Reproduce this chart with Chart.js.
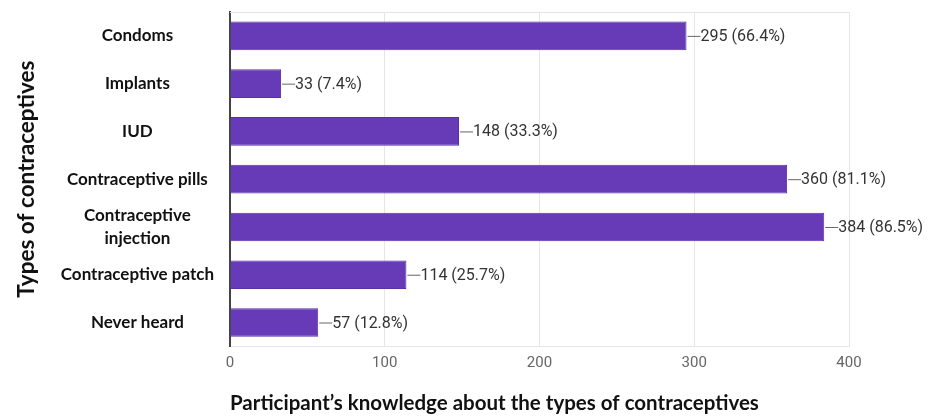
<!DOCTYPE html>
<html lang="en">
<head>
    <meta charset="UTF-8">
    <title>Types of contraceptives</title>
    <script src="https://cdn.jsdelivr.net/npm/chart.js"></script>
    <style>
        html, body { margin: 0; padding: 0; background: #fff; }
        #wrap { width: 932px; height: 417px; }
    </style>
</head>
<body>
<div id="wrap"><canvas id="chart"></canvas></div>

<script>
    // data
    const categories = ["Condoms", "Implants", "IUD", "Contraceptive pills", ["Contraceptive", "injection"], "Contraceptive patch", "Never heard"];
    const counts = [295, 33, 148, 360, 384, 114, 57];
    const percents = ["66.4%", "7.4%", "33.3%", "81.1%", "86.5%", "25.7%", "12.8%"];
    const xTicks = [0, 100, 200, 300, 400];

    // value labels with a short leader line after each bar
    const valueLabels = {
        id: "valueLabels",
        afterDatasetsDraw(chart) {
            const ctx = chart.ctx;
            const meta = chart.getDatasetMeta(0);
            ctx.save();
            ctx.font = "16px Roboto";
            ctx.textBaseline = "middle";
            meta.data.forEach((bar, i) => {
                const x = bar.x;
                const y = bar.y;
                ctx.strokeStyle = "#666";
                ctx.lineWidth = 1;
                ctx.beginPath();
                ctx.moveTo(x + 1, y + 0.5);
                ctx.lineTo(x + 14, y + 0.5);
                ctx.stroke();
                ctx.fillStyle = "#333";
                ctx.fillText(counts[i] + " (" + percents[i] + ")", x + 14, y + 1);
            });
            ctx.restore();
        }
    };

    // light top border of the plot area
    const plotFrame = {
        id: "plotFrame",
        beforeDatasetsDraw(chart) {
            const a = chart.chartArea;
            const ctx = chart.ctx;
            ctx.save();
            ctx.strokeStyle = "#e4e4e4";
            ctx.lineWidth = 1;
            ctx.beginPath();
            ctx.moveTo(a.left, a.top + 0.5);
            ctx.lineTo(a.right, a.top + 0.5);
            ctx.stroke();
            ctx.restore();
        }
    };

    new Chart(document.getElementById("chart"), {
        type: "bar",
        data: {
            labels: categories,
            datasets: [{
                data: counts,
                backgroundColor: "#673ab7",
                borderColor: "#5a2fa8",
                borderWidth: 1,
                categoryPercentage: 0.6,
                barPercentage: 1
            }]
        },
        options: {
            indexAxis: "y",
            responsive: true,
            maintainAspectRatio: false,
            animation: false,
            layout: { padding: { top: 12, right: 83, bottom: 0, left: 0 } },
            plugins: {
                legend: { display: false },
                tooltip: { enabled: false }
            },
            scales: {
                x: {
                    min: 0,
                    max: 400,
                    afterBuildTicks(scale) {
                        scale.ticks = xTicks.map(v => ({ value: v }));
                    },
                    grid: { color: "#e6e6e6", drawTicks: false },
                    border: { color: "#e6e6e6" },
                    ticks: {
                        padding: 8,
                        color: "#666",
                        font: { family: "Roboto", size: 15 }
                    },
                    title: {
                        display: true,
                        text: "Participant\u2019s knowledge about the types of contraceptives",
                        align: "start",
                        color: "#111",
                        font: { family: "Lato", size: 20.5, weight: "bold" },
                        padding: { top: 11, bottom: 1 }
                    }
                },
                y: {
                    grid: { display: false, drawTicks: false },
                    border: { color: "#444", width: 2 },
                    afterFit(scale) {
                        scale.width = 230;
                        scale.paddingTop = 0;
                        scale.paddingBottom = 0;
                    },
                    ticks: {
                        autoSkip: false,
                        crossAlign: "center",
                        padding: 16,
                        color: "#111",
                        font: { family: "Lato", size: 17, weight: "bold", lineHeight: 1.35 }
                    },
                    title: {
                        display: true,
                        text: "Types of contraceptives",
                        color: "#111",
                        font: { family: "Lato", size: 22.5, weight: "bold" },
                        padding: { top: 13, bottom: 0 }
                    }
                }
            }
        },
        plugins: [plotFrame, valueLabels]
    });
</script>
</body>
</html>
